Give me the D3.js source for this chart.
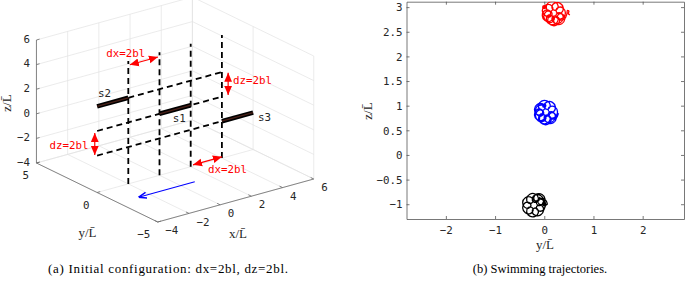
<!DOCTYPE html>
<html><head><meta charset="utf-8">
<script src="https://cdn.jsdelivr.net/npm/d3@7"></script>
<style>body{margin:0;background:#fff;} svg{display:block}</style>
</head><body>
<svg id="c" width="685" height="281"></svg>
<script>
// ---------------- LEFT PANEL DATA (3D initial configuration) ----------------
const xTicks3D = [-4, -2, 0, 2, 4, 6];
const yTicks3D = [-5, 0, 5];
const zTicks3D = [-4, -2, 0, 2, 4, 6];
const swimmerNames = ["s1", "s2", "s3"];
const swimmerXStart = [0, -4, 4];
const swimmerXEnd = [2, -2, 6];
const swimmerZ = [1, 3, -1];
const swimmerLabelX = [1.26, -3.52, 6.73];
const swimmerLabelZ = [0.2, 3.89, -1.61];
const columnX = [-2, 0, 2, 4];
const columnZFrom = [-4, -4, -4, -4];
const columnZTo = [6, 6, 6, 6];
const rowZ = [3, 1, -1];
const rowXFrom = [-2, -4, -4];
const rowXTo = [4, 4, 4];
const annText = ["dx=2bl", "dz=2bl", "dz=2bl", "dx=2bl"];
const annX1 = [-1.9, 4.4, -4.15, 2.15];
const annZ1 = [5.65, 2.8, 0.9, -3.9];
const annX2 = [-0.1, 4.4, -4.15, 4.0];
const annZ2 = [5.65, 1.0, -0.9, -3.9];
const annLabelX = [-2.16, 5.96, -5.8, 4.36];
const annLabelZ = [6.67, 1.67, 0.49, -4.99];
const swimDirFrom = [0.9, -1.75, -4];
const swimDirTo = [-2.7, -1.75, -4];

// ---------------- RIGHT PANEL DATA (trajectories in y-z plane) ----------------
const yTicksR = [-2, -1, 0, 1, 2];
const zTicksR = [-1, -0.5, 0, 0.5, 1, 1.5, 2, 2.5, 3];
const startY = [0, 0, 0];
const startZ = [3, 1, -1];
const trajColors = ["#ff0000", "#0000ff", "#000000"];
const trajS2 = [[0.000,3.000],[0.015,3.033],[-0.039,2.937],[0.000,2.841],[0.086,2.822],[0.130,2.880],[0.086,2.938],[0.000,2.919],[-0.039,2.823],[0.015,2.727],[0.116,2.711],[0.174,2.774],[0.144,2.839],[0.070,2.828],[0.043,2.741],[0.106,2.657],[0.215,2.653],[0.280,2.730],[0.255,2.809],[0.184,2.813],[0.157,2.741],[0.220,2.672],[0.326,2.683],[0.386,2.774],[0.354,2.867],[0.275,2.883],[0.239,2.823],[0.290,2.763],[0.384,2.782],[0.430,2.880],[0.384,2.978],[0.290,2.997],[0.239,2.937],[0.275,2.877],[0.354,2.893],[0.386,2.986],[0.326,3.077],[0.220,3.088],[0.157,3.019],[0.184,2.947],[0.255,2.951],[0.280,3.030],[0.215,3.107],[0.106,3.103],[0.043,3.019],[0.070,2.932],[0.144,2.921],[0.174,2.986],[0.116,3.049],[0.015,3.033],[-0.039,2.937],
 [0.030,2.821],[0.116,2.802],[0.160,2.860],[0.116,2.918],[0.030,2.899],[-0.009,2.803],[0.045,2.707],[0.146,2.691],[0.204,2.754],[0.174,2.819],[0.100,2.808],[0.073,2.721],[0.136,2.637],[0.245,2.633],[0.310,2.710],[0.285,2.789],[0.214,2.793],[0.187,2.721],[0.250,2.652],[0.356,2.663],[0.416,2.754],[0.384,2.847],[0.305,2.863],[0.269,2.803],[0.320,2.743],[0.414,2.762],[0.460,2.860],[0.470,2.930],[0.500,2.920],[0.490,2.870],[0.520,2.840]];
const trajS1 = [[0.000,1.000],[-0.044,1.039],[-0.145,1.023],[-0.199,0.927],[-0.160,0.831],[-0.074,0.812],[-0.030,0.870],[-0.074,0.928],[-0.160,0.909],[-0.199,0.813],[-0.145,0.717],[-0.044,0.701],[0.014,0.764],[-0.016,0.829],[-0.090,0.818],[-0.117,0.731],[-0.054,0.647],[0.055,0.643],[0.120,0.720],[0.095,0.799],[0.024,0.803],[-0.003,0.731],[0.060,0.662],[0.166,0.673],[0.226,0.764],[0.194,0.857],[0.115,0.873],[0.079,0.813],[0.130,0.753],[0.224,0.772],[0.270,0.870],[0.224,0.968],[0.130,0.987],[0.079,0.927],[0.115,0.867],[0.194,0.883],[0.226,0.976],[0.166,1.067],[0.060,1.078],[-0.003,1.009],[0.024,0.937],[0.095,0.941],[0.120,1.020],[0.055,1.097],[-0.054,1.093],[-0.117,1.009],[-0.090,0.922],[-0.016,0.911],[0.014,0.976],[-0.044,1.039],
 [-0.024,1.019],[-0.125,1.003],[-0.179,0.907],[-0.140,0.811],[-0.054,0.792],[-0.010,0.850],[-0.054,0.908],[-0.140,0.889],[-0.179,0.793],[-0.125,0.697],[-0.024,0.681],[0.034,0.744],[0.004,0.809],[-0.070,0.798],[-0.097,0.711],[-0.034,0.627],[0.075,0.623],[0.140,0.700],[0.115,0.779],[0.044,0.783],[0.017,0.711],[0.080,0.642],[0.186,0.653],[0.246,0.744],[0.214,0.837],[0.135,0.853],[0.099,0.793],[0.150,0.733],[0.244,0.752],[0.290,0.850]];
const trajS3 = [[0.000,-1.000],[0.030,-1.020],[-0.016,-0.922],[-0.110,-0.903],[-0.161,-0.963],[-0.125,-1.023],[-0.046,-1.007],[-0.014,-0.914],[-0.074,-0.823],[-0.180,-0.812],[-0.243,-0.881],[-0.216,-0.953],[-0.145,-0.949],[-0.120,-0.870],[-0.185,-0.793],[-0.294,-0.797],[-0.357,-0.881],[-0.330,-0.968],[-0.256,-0.979],[-0.226,-0.914],[-0.284,-0.851],[-0.385,-0.867],[-0.439,-0.963],[-0.400,-1.059],[-0.314,-1.078],[-0.270,-1.020],[-0.314,-0.962],[-0.400,-0.981],[-0.439,-1.077],[-0.385,-1.173],[-0.284,-1.189],[-0.226,-1.126],[-0.256,-1.061],[-0.330,-1.072],[-0.357,-1.159],[-0.294,-1.243],[-0.185,-1.247],[-0.120,-1.170],[-0.145,-1.091],[-0.216,-1.087],[-0.243,-1.159],[-0.180,-1.228],[-0.074,-1.217],[-0.014,-1.126],[-0.046,-1.033],[-0.125,-1.017],[-0.161,-1.077],[-0.110,-1.137],[-0.016,-1.118],[0.030,-1.020],
 [0.060,-1.000],[0.014,-0.902],[-0.080,-0.883],[-0.131,-0.943],[-0.095,-1.003],[-0.016,-0.987],[0.016,-0.894],[-0.044,-0.803],[-0.150,-0.792],[-0.213,-0.861],[-0.186,-0.933],[-0.115,-0.929],[-0.090,-0.850]];
const trajectories = [trajS2, trajS1, trajS3];

const captionA = "(a) Initial configuration: dx=2bl, dz=2bl.";
const captionB = "(b) Swimming trajectories.";

// ---------------- DRAWING ----------------
const svg = d3.select("#c");
const MONO = "'DejaVu Sans Mono', monospace";
const SERIF = "'Liberation Serif', 'DejaVu Serif', serif";
const fmt = d => d < 0 ? "\u2212" + Math.abs(d) : String(d);

// 3D projection built from linear scales
const ux = d3.scaleLinear().domain([-4, 6]).range([0, 1]);
const uy = d3.scaleLinear().domain([-5, 5]).range([0, 1]);
const uz = d3.scaleLinear().domain([-4, 6]).range([0, 1]);
const P0 = [157.75, 222], EX = [156, -43], EY = [-121.3, -59], EZ = [0, -123];
function proj(x, y, z) {
  const a = ux(x), b = uy(y), c = uz(z);
  return [P0[0] + a*EX[0] + b*EY[0] + c*EZ[0], P0[1] + a*EX[1] + b*EY[1] + c*EZ[1]];
}
const line3 = pts => d3.line()(pts.map(p => proj(p[0], p[1], p[2])));

const L = svg.append("g");
// grid on back walls and floor
const gridSegs = [];
xTicks3D.forEach(x => { gridSegs.push([[x,5,-4],[x,5,6]]); gridSegs.push([[x,-5,-4],[x,5,-4]]); });
yTicks3D.forEach(y => { gridSegs.push([[6,y,-4],[6,y,6]]); gridSegs.push([[-4,y,-4],[6,y,-4]]); });
zTicks3D.forEach(z => { gridSegs.push([[-4,5,z],[6,5,z]]); gridSegs.push([[6,-5,z],[6,5,z]]); });
L.selectAll("path.grid").data(gridSegs).join("path").attr("class","grid")
  .attr("d", line3).attr("stroke", "#e3e3e3").attr("stroke-width", 0.7).attr("fill", "none");

// axes lines
const axisSegs = [[[-4,5,-4],[-4,5,6]], [[-4,-5,-4],[-4,5,-4]], [[-4,-5,-4],[6,-5,-4]]];
L.selectAll("path.ax").data(axisSegs).join("path").attr("class","ax")
  .attr("d", line3).attr("stroke", "#6a6a6a").attr("stroke-width", 0.8).attr("fill", "none");
// tick marks
const tickSegs = [];
zTicks3D.forEach(z => tickSegs.push([[-4,5,z],[-3.8,5,z]]));
xTicks3D.forEach(x => tickSegs.push([[x,-5,-4],[x,-4.75,-4]]));
yTicks3D.forEach(y => tickSegs.push([[-4,y,-4],[-3.8,y,-4]]));
L.selectAll("path.tk").data(tickSegs).join("path").attr("class","tk")
  .attr("d", line3).attr("stroke", "#6a6a6a").attr("stroke-width", 0.8);

// tick labels
L.selectAll("text.zt").data(zTicks3D).join("text").attr("class","zt")
  .attr("x", d => proj(-4,5,d)[0] - 6.5).attr("y", d => proj(-4,5,d)[1] - 1)
  .attr("dy","0.35em").attr("text-anchor","end").text(fmt);
L.selectAll("text.yt").data(yTicks3D).join("text").attr("class","yt")
  .attr("x", d => proj(-4,d,-4)[0] - 7.5).attr("y", d => proj(-4,d,-4)[1] + 12.5)
  .attr("dy","0.35em").attr("text-anchor","end").text(fmt);
L.selectAll("text.xt").data(xTicks3D).join("text").attr("class","xt")
  .attr("x", d => proj(d,-5,-4)[0] + 7.5).attr("y", d => proj(d,-5,-4)[1] + 8.5)
  .attr("dy","0.35em").attr("text-anchor","start").text(fmt);
L.selectAll("text.zt,text.yt,text.xt").attr("font-family", MONO).attr("font-size", 10.8).attr("fill", "#262626");

// axis labels
L.append("text").attr("transform","translate(11,103) rotate(-90)").attr("text-anchor","middle")
  .attr("font-family", SERIF).attr("font-size", 13).attr("fill","#262626").text("z/L\u0304");
L.append("text").attr("x", 87.5).attr("y", 237).attr("text-anchor","middle")
  .attr("font-family", SERIF).attr("font-size", 13).attr("fill","#262626").text("y/L\u0304");
L.append("text").attr("x", 238).attr("y", 238).attr("text-anchor","middle")
  .attr("font-family", SERIF).attr("font-size", 13).attr("fill","#262626").text("x/L\u0304");

// dashed columns and rows
const dashSegs = [];
columnX.forEach((x,i) => dashSegs.push([[x,0,columnZFrom[i]],[x,0,columnZTo[i]]]));
rowZ.forEach((z,i) => dashSegs.push([[rowXFrom[i],0,z],[rowXTo[i],0,z]]));
L.selectAll("path.dash").data(dashSegs).join("path").attr("class","dash")
  .attr("d", line3).attr("stroke", "#000").attr("stroke-width", 1.8)
  .attr("stroke-dasharray", "6,4").attr("fill","none");

// swimmers
const bodies = swimmerNames.map((n,i) => [[swimmerXStart[i],0,swimmerZ[i]],[swimmerXEnd[i],0,swimmerZ[i]]]);
L.selectAll("path.body").data(bodies).join("path").attr("class","body")
  .attr("d", line3).attr("stroke", "#000").attr("stroke-width", 4.6).attr("fill","none");
L.selectAll("path.body2").data(bodies).join("path").attr("class","body2")
  .attr("d", line3).attr("stroke", "#4a2018").attr("stroke-width", 1.4).attr("fill","none");
L.selectAll("text.sl").data(swimmerNames).join("text").attr("class","sl")
  .attr("x", (d,i) => proj(swimmerLabelX[i],0,swimmerLabelZ[i])[0])
  .attr("y", (d,i) => proj(swimmerLabelX[i],0,swimmerLabelZ[i])[1])
  .attr("dy","0.35em").attr("text-anchor","middle")
  .attr("font-family", MONO).attr("font-size", 10.8).attr("fill","#262626").text(d => d);

// red double arrows
const defs = svg.append("defs");
defs.append("marker").attr("id","rh").attr("markerUnits","userSpaceOnUse")
  .attr("markerWidth",9).attr("markerHeight",9).attr("refX",6).attr("refY",3)
  .attr("orient","auto-start-reverse").attr("viewBox","0 0 6 6")
  .append("path").attr("d","M0,0.4 L6,3 L0,5.6 Z").attr("fill","#ff0000");
defs.append("marker").attr("id","bh").attr("markerUnits","userSpaceOnUse")
  .attr("markerWidth",8).attr("markerHeight",8).attr("refX",6).attr("refY",3)
  .attr("orient","auto").attr("viewBox","0 0 6 6")
  .append("path").attr("d","M0,0.8 L6,3 L0,5.2").attr("fill","none").attr("stroke","#0000ff").attr("stroke-width",1.1);
const annSegs = annText.map((t,i) => [[annX1[i],0,annZ1[i]],[annX2[i],0,annZ2[i]]]);
L.selectAll("path.ann").data(annSegs).join("path").attr("class","ann")
  .attr("d", line3).attr("stroke","#ff0000").attr("stroke-width",1.2).attr("fill","none")
  .attr("marker-start","url(#rh)").attr("marker-end","url(#rh)");
L.selectAll("text.ann").data(annText).join("text").attr("class","ann")
  .attr("x", (d,i) => proj(annLabelX[i],0,annLabelZ[i])[0])
  .attr("y", (d,i) => proj(annLabelX[i],0,annLabelZ[i])[1])
  .attr("dy","0.35em").attr("text-anchor","middle")
  .attr("font-family", MONO).attr("font-size", 10.8).attr("fill","#ff0000").text(d => d);
// swimming direction arrow
L.append("path").attr("d", line3([swimDirFrom, swimDirTo])).attr("stroke","#0000ff")
  .attr("stroke-width",1.1).attr("fill","none").attr("marker-end","url(#bh)");

// ---------------- RIGHT PANEL ----------------
const xR = d3.scaleLinear().domain([-2.8, 2.84]).range([406.5, 684]);
const yR = d3.scaleLinear().domain([-1.3, 3.11]).range([219, 1.7]);
const R = svg.append("g");
defs.append("clipPath").attr("id","clipR").append("rect")
  .attr("x", xR.range()[0]).attr("y", yR.range()[1])
  .attr("width", xR.range()[1]-xR.range()[0]).attr("height", yR.range()[0]-yR.range()[1]);

const axB = R.append("g").attr("transform",`translate(0,${yR.range()[0]})`)
  .call(d3.axisBottom(xR).tickValues(yTicksR).tickSizeInner(-3).tickSizeOuter(0).tickFormat(fmt));
const axT = R.append("g").attr("transform",`translate(0,${yR.range()[1]})`)
  .call(d3.axisTop(xR).tickValues(yTicksR).tickSizeInner(-3).tickSizeOuter(0).tickFormat(""));
const axL = R.append("g").attr("transform",`translate(${xR.range()[0]},0)`)
  .call(d3.axisLeft(yR).tickValues(zTicksR).tickSizeInner(-3).tickSizeOuter(0).tickFormat(fmt));
const axRt = R.append("g").attr("transform",`translate(${xR.range()[1]},0)`)
  .call(d3.axisRight(yR).tickValues(zTicksR).tickSizeInner(-3).tickSizeOuter(0).tickFormat(""));
[axB, axT, axL, axRt].forEach(a => {
  a.selectAll("path.domain,line").attr("stroke","#555").attr("stroke-width",0.8);
  a.selectAll("text").attr("font-family", MONO).attr("font-size", 10.8).attr("fill","#262626");
});
axB.selectAll("text").attr("y", 11).attr("dy","0.35em");
axL.selectAll("text").attr("x", -4).attr("dy","0.35em");

R.append("text").attr("transform","translate(372,111) rotate(-90)").attr("text-anchor","middle")
  .attr("font-family", SERIF).attr("font-size", 13).attr("fill","#262626").text("z/L\u0304");
R.append("text").attr("x", 545).attr("y", 249).attr("text-anchor","middle")
  .attr("font-family", SERIF).attr("font-size", 13).attr("fill","#262626").text("y/L\u0304");

const tl = d3.line().x(d => xR(d[0])).y(d => yR(d[1])).curve(d3.curveCatmullRom.alpha(0.5));
const plot = R.append("g").attr("clip-path","url(#clipR)");
plot.selectAll("path.traj").data(trajectories).join("path").attr("class","traj")
  .attr("d", tl).attr("stroke", (d,i) => trajColors[i]).attr("stroke-width", 1.3)
  .attr("fill","none").attr("stroke-linejoin","round");
plot.selectAll("circle.st").data(startZ).join("circle").attr("class","st")
  .attr("cx", (d,i) => xR(startY[i])).attr("cy", d => yR(d)).attr("r", 2.2)
  .attr("fill", (d,i) => trajColors[i]);

// captions
svg.append("text").attr("x", 168).attr("y", 273).attr("text-anchor","middle")
  .attr("font-family", SERIF).attr("font-size", 13)
  .attr("textLength", 240).attr("lengthAdjust","spacing")
  .attr("fill","#000").text(captionA);
svg.append("text").attr("x", 540).attr("y", 273).attr("text-anchor","middle")
  .attr("font-family", SERIF).attr("font-size", 12.5)
  .attr("fill","#000").text(captionB);
</script>
</body></html>
